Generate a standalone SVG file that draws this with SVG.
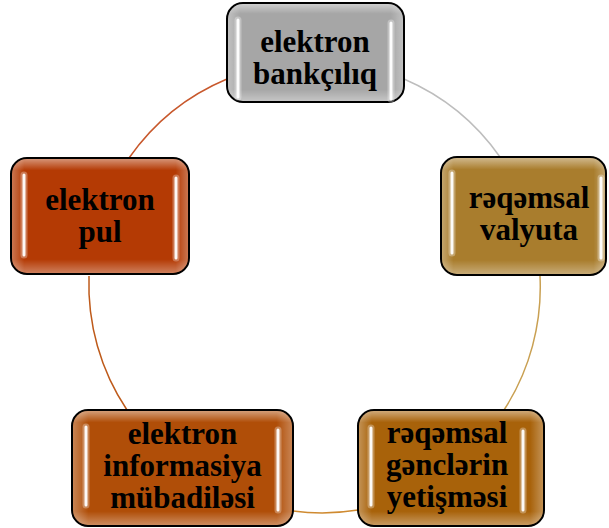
<svg xmlns="http://www.w3.org/2000/svg" width="609" height="528" viewBox="0 0 609 528">
<defs>
<linearGradient id="gv" x1="0" y1="0" x2="0" y2="1">
<stop offset="0" stop-color="#fff" stop-opacity="0.45"/>
<stop offset="0.1" stop-color="#fff" stop-opacity="0"/>
<stop offset="0.88" stop-color="#fff" stop-opacity="0"/>
<stop offset="1" stop-color="#fff" stop-opacity="0.35"/>
</linearGradient>
<linearGradient id="gh" x1="0" y1="0" x2="1" y2="0">
<stop offset="0" stop-color="#fff" stop-opacity="0.3"/>
<stop offset="0.07" stop-color="#fff" stop-opacity="0"/>
<stop offset="0.93" stop-color="#fff" stop-opacity="0"/>
<stop offset="1" stop-color="#fff" stop-opacity="0.3"/>
</linearGradient>
<style>
.box{stroke:#000;stroke-width:2}
.ov{stroke:none}
.glow{stroke:#fff;stroke-opacity:0.3;stroke-width:7;stroke-linecap:round;fill:none}
.bar{stroke:#fff;stroke-opacity:0.95;stroke-width:3;stroke-linecap:round;fill:none}
.t{font-family:"Liberation Serif","Times New Roman",serif;font-weight:bold;font-size:31px;fill:#000;text-anchor:middle}
.c{fill:none;stroke-width:1.5}
</style>
</defs>
<g id="connectors">
<path class="c" stroke="#BDBDBD" d="M404 79 A226 226 0 0 1 500 157"/>
<path class="c" stroke="#C9A052" d="M540 276 A226 226 0 0 1 504 410"/>
<path class="c" stroke="#CF8A30" d="M358 510 A226 226 0 0 1 293 511"/>
<path class="c" stroke="#BE5A1A" d="M127 410 A226 226 0 0 1 89 276"/>
<path class="c" stroke="#C8582C" d="M129 158 A226 226 0 0 1 227 79"/>
</g>
<g id="node-top">
<rect class="box" x="227" y="3" width="177" height="99" rx="16" fill="#A6A6A6"/>
<rect class="ov" x="228" y="4" width="175" height="97" rx="15" fill="url(#gv)"/>
<rect class="ov" x="228" y="4" width="175" height="97" rx="15" fill="url(#gh)"/>
<path class="glow" d="M238 20 V97 M391 23 V99"/>
<path class="bar" d="M238 20 V97 M391 23 V99"/>
<text class="t" x="315" y="52">elektron</text>
<text class="t" x="315" y="84">bankçılıq</text>
</g>
<g id="node-right">
<rect class="box" x="441" y="157" width="165" height="118" rx="16" fill="#A97D2D"/>
<rect class="ov" x="442" y="158" width="163" height="116" rx="15" fill="url(#gv)"/>
<rect class="ov" x="442" y="158" width="163" height="116" rx="15" fill="url(#gh)"/>
<path class="glow" d="M452 173 V253 M601 178 V258"/>
<path class="bar" d="M452 173 V253 M601 178 V258"/>
<text class="t" x="529" y="208">rəqəmsal</text>
<text class="t" x="529" y="240">valyuta</text>
</g>
<g id="node-bottom-right">
<rect class="box" x="358" y="410" width="186" height="116" rx="16" fill="#A8620A"/>
<rect class="ov" x="359" y="411" width="184" height="114" rx="15" fill="url(#gv)"/>
<rect class="ov" x="359" y="411" width="184" height="114" rx="15" fill="url(#gh)"/>
<path class="glow" d="M371 428 V505 M523 431 V510"/>
<path class="bar" d="M371 428 V505 M523 431 V510"/>
<text class="t" x="447" y="443">rəqəmsal</text>
<text class="t" x="447" y="475">gənclərin</text>
<text class="t" x="447" y="507">yetişməsi</text>
</g>
<g id="node-bottom-left">
<rect class="box" x="72" y="410" width="221" height="116" rx="16" fill="#B04E08"/>
<rect class="ov" x="73" y="411" width="219" height="114" rx="15" fill="url(#gv)"/>
<rect class="ov" x="73" y="411" width="219" height="114" rx="15" fill="url(#gh)"/>
<path class="glow" d="M86 427 V505 M278 430 V510"/>
<path class="bar" d="M86 427 V505 M278 430 V510"/>
<text class="t" x="182.5" y="444">elektron</text>
<text class="t" x="182.5" y="476">informasiya</text>
<text class="t" x="182.5" y="508">mübadiləsi</text>
</g>
<g id="node-left">
<rect class="box" x="11" y="158" width="178" height="116" rx="16" fill="#B43A04"/>
<rect class="ov" x="12" y="159" width="176" height="114" rx="15" fill="url(#gv)"/>
<rect class="ov" x="12" y="159" width="176" height="114" rx="15" fill="url(#gh)"/>
<path class="glow" d="M24 175 V255 M176 178 V258"/>
<path class="bar" d="M24 175 V255 M176 178 V258"/>
<text class="t" x="100" y="210">elektron</text>
<text class="t" x="100" y="242">pul</text>
</g>
</svg>
